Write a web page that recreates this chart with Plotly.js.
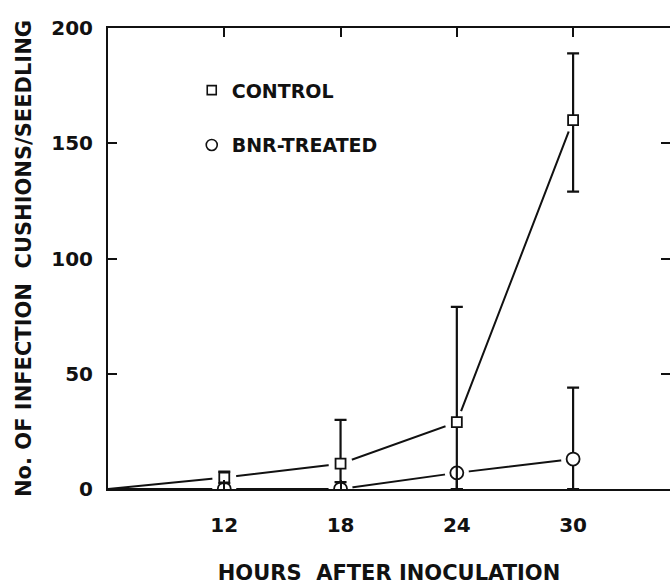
<!DOCTYPE html>
<html><head><meta charset="utf-8">
<script src="https://cdn.plot.ly/plotly-3.0.1.min.js"></script>
<style>body{margin:0;background:#fff}#chart{width:670px;height:585px}</style>
</head><body><div id="chart"></div>
<script>
const hours = [6, 12, 18, 24, 30];
const controlMean = [0, 5, 11, 29, 160];
const controlErrPlus = [0, 2.5, 19, 50, 29];
const controlErrMinus = [0, 2.5, 8, 29, 31];
const bnrMean = [0, 0, 0, 7, 13];
const bnrErrPlus = [0, 0, 0, 0, 31];
const bnrErrMinus = [0, 0, 0, 7, 13];
const xTicks = [12, 18, 24, 30];
const yTicks = [0, 50, 100, 150, 200];
const legendNames = ['CONTROL', 'BNR-TREATED'];

const F = '"DejaVu Sans", Verdana, sans-serif';
const shown = hours.map((h, i) => i === 0 ? 0 : 1);
const INK = '#111';

function lineTrace(y) {
  return {x: hours, y: y, mode: 'lines', showlegend: false, hoverinfo: 'skip',
    line: {color: INK, width: 2}};
}
function haloTrace(y, d) {
  return {x: hours, y: y, mode: 'markers', showlegend: false, hoverinfo: 'skip',
    marker: {symbol: 'circle', size: shown.map(s => s * d), color: '#fff', opacity: 1, line: {width: 0}}};
}
function markTrace(y, plus, minus, symbol, size) {
  return {x: hours, y: y, mode: 'markers', showlegend: false,
    marker: {symbol: symbol, size: shown.map(s => s * size), color: '#fff', opacity: 1, line: {color: INK, width: 1.8}},
    error_y: {type: 'data', symmetric: false, array: plus, arrayminus: minus, color: INK, thickness: 2.2, width: 6}};
}

const traces = [
  lineTrace(bnrMean),
  lineTrace(controlMean),
  haloTrace(bnrMean, 24),
  haloTrace(controlMean, 24),
  markTrace(bnrMean, bnrErrPlus, bnrErrMinus, 'circle', 13),
  markTrace(controlMean, controlErrPlus, controlErrMinus, 'square', 10),
  {
    x: [null], y: [null], mode: 'markers', name: legendNames[0], legend: 'legend',
    marker: {symbol: 'square', size: 9, color: '#fff', line: {color: INK, width: 1.6}}
  },
  {
    x: [null], y: [null], mode: 'markers', name: legendNames[1], legend: 'legend2',
    marker: {symbol: 'circle', size: 11, color: '#fff', line: {color: INK, width: 1.6}}
  }
];

const legendCommon = {
  bgcolor: 'rgba(0,0,0,0)', borderwidth: 0,
  font: {family: F, size: 19, color: INK, weight: 'bold'},
  xanchor: 'left', yanchor: 'middle', xref: 'paper', yref: 'paper'
};

const tickFont = {family: F, size: 20, color: INK, weight: 'bold'};
const titleFont = {family: F, size: 21, color: INK, weight: 'bold'};

const layout = {
  width: 670, height: 585,
  margin: {l: 108, r: 0, t: 28, b: 96},
  paper_bgcolor: '#fff', plot_bgcolor: '#fff',
  showlegend: true,
  legend: Object.assign({x: 0.149, y: 0.865}, legendCommon),
  legend2: Object.assign({x: 0.149, y: 0.746}, legendCommon),
  xaxis: {
    range: [6, 35], tickvals: xTicks, ticktext: xTicks.map(String),
    ticks: 'inside', ticklen: 9, tickwidth: 2, tickcolor: INK,
    showline: true, linecolor: INK, linewidth: 2, mirror: 'ticks',
    showgrid: false, zeroline: false, ticklabelstandoff: 17,
    tickfont: tickFont,
    title: {text: 'HOURS  AFTER INOCULATION', standoff: 30, font: titleFont}
  },
  yaxis: {
    range: [0, 200], tickvals: yTicks, ticktext: yTicks.map(String),
    ticks: 'inside', ticklen: 9, tickwidth: 2, tickcolor: INK,
    showline: true, linecolor: INK, linewidth: 2, mirror: 'ticks',
    showgrid: false, zeroline: false, ticklabelstandoff: 9,
    tickfont: tickFont,
    title: {text: 'No. OF INFECTION  CUSHIONS/SEEDLING', standoff: 14, font: titleFont}
  }
};

Plotly.newPlot('chart', traces, layout, {displayModeBar: false, staticPlot: true});
</script></body></html>
